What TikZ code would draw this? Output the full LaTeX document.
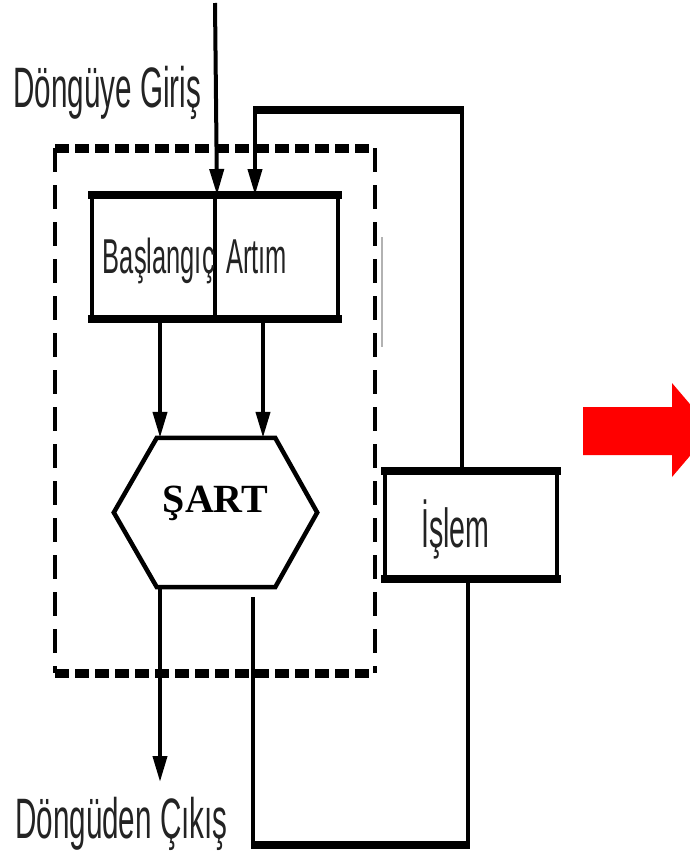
\documentclass[tikz,border=0pt]{standalone}
\usepackage{fontspec}
\usepackage{tikz}
\usetikzlibrary{arrows.meta, positioning, calc}
\newfontfamily\darfont[FakeStretch=0.52]{Liberation Sans}
\newfontfamily\sartfont{Liberation Serif}
\definecolor{yazigri}{RGB}{35,35,35}
\definecolor{okkirmizi}{RGB}{255,0,0}

\begin{document}
\begin{tikzpicture}[
    x=1pt, y=-1pt,
    kutu/.style={rectangle, draw, line width=4pt, inner sep=0pt, minimum width=123pt, minimum height=120pt},
    ibox/.style={rectangle, draw, line width=4pt, inner sep=0pt, minimum width=172pt, minimum height=104pt},
    hexa/.style={rectangle, draw=none, inner sep=0pt, minimum width=203pt, minimum height=149pt},
    etiket/.style={inner sep=0pt, text=yazigri, font=\darfont\fontsize{57}{60}\selectfont},
    kutuyazi/.style={inner sep=0pt, text=yazigri, font=\darfont\fontsize{49}{52}\selectfont},
    ince/.style={line width=4pt},
    kalin/.style={line width=8pt, shorten <=-2pt, shorten >=-2pt},
    ok/.style={-{Triangle[length=26pt,width=14pt]}, line width=4pt},
    kesik/.style={line width=9pt, dash pattern=on 14pt off 6pt},
    kenar/.style={line width=4pt, dash pattern=on 24pt off 13pt},
]
    \useasboundingbox[fill=white] (0,0) rectangle (690,854);

    % dongu cercevesi
    \draw[kesik] (55,148) -- (375,148);
    \draw[kesik] (55,673) -- (375,673);
    \draw[kenar] (55,148) -- (55,673);
    \draw[kenar] (375,148) -- (375,673);
    \draw[line width=1.5pt, black!30] (382,237) -- (382,347);

    \node[kutu] (bas) at (153.5,257) {};
    \node[kutu] (art) at (276.5,257) {};
    \node[kutuyazi, anchor=base east] (basyazi) at ([xshift=-2pt,yshift=-16pt]bas.east) {Başlangıç};
    \node[kutuyazi, anchor=base west] (artyazi) at ([xshift=13pt,yshift=-16pt]art.west) {Artım};

    \node[hexa] (sart) at (215.5,512.5) {};
    \draw[line width=4.5pt] ([xshift=43pt]sart.north west) -- ([xshift=-42pt]sart.north east) -- (sart.east)
        -- ([xshift=-42pt]sart.south east) -- ([xshift=43pt]sart.south west) -- (sart.west) -- cycle;
    \node[inner sep=0pt, font=\sartfont\bfseries\fontsize{40}{40}\selectfont, anchor=base] (sartyazi) at (sart.center) {ŞART};

    \node[ibox] (islem) at (471,525) {};
    \draw[kalin] (islem.north west) -- (islem.north east);
    \draw[kalin] (islem.south west) -- (islem.south east);
    \node[kutuyazi, font=\darfont\fontsize{55}{58}\selectfont, anchor=base west] (islemyazi) at ([xshift=38pt,yshift=-22pt]islem.west) {İşlem};

    \node[etiket, anchor=base west] (giris) at (13,107) {Döngüye Giriş};
    \node[etiket, anchor=base west] (cikisyazi) at (15,838) {Döngüden Çıkış};

    % giris ve donus
    \coordinate (giristop) at (215,3);
    \coordinate (donusR) at (462,110);
    \coordinate (donusL) at (255,110);
    \draw[ok] (giristop) -- (bas.north east);
    \draw[ince] (donusR) -- (donusR |- islem.north);
    \draw[kalin] (donusR) -- (donusL);
    \draw[ok] (donusL) -- (donusL |- art.north);
    \draw[kalin] (bas.north west) -- (art.north east);

    \draw[ok] ([xshift=6.5pt]bas.south) -- ([xshift=6.5pt]bas.south |- sart.north);
    \draw[ok] ([xshift=-13.5pt]art.south) -- ([xshift=-13.5pt]art.south |- sart.north);
    \draw[kalin] (bas.south west) -- (art.south east);

    % cikis
    \coordinate (cikis) at (160,782);
    \draw[ok] (cikis |- sart.south) -- (cikis);

    \coordinate (donusalt) at (253,597);
    \coordinate (altkose) at (253,845);
    \coordinate (islemalt) at ([xshift=-3pt]islem.south);
    \draw[ince] (donusalt) -- (altkose) -| (islemalt);
    \draw[kalin] (altkose) -- (altkose -| islemalt);

    \fill[okkirmizi] (583,407) -- (672,407) -- (672,383) -- (712,430) -- (672,477) -- (672,455) -- (583,455) -- cycle;
\end{tikzpicture}
\end{document}
